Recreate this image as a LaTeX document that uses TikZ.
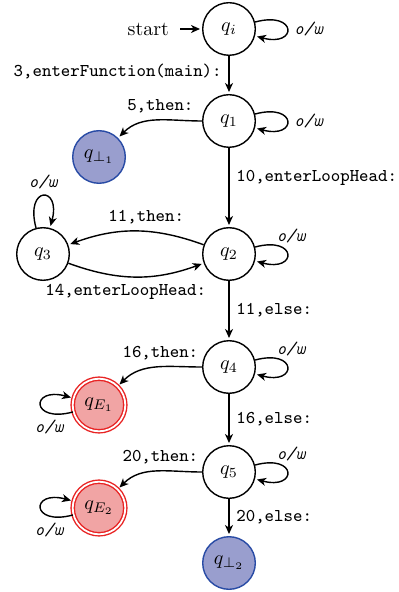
\documentclass[tikz,border=0pt]{standalone}
\usetikzlibrary{arrows.meta}
\definecolor{sinkfill}{RGB}{153,158,206}
\definecolor{sinkline}{RGB}{40,75,165}
\definecolor{errfill}{RGB}{241,164,164}
\definecolor{errline}{RGB}{232,35,35}

\begin{document}
\begin{tikzpicture}[x=0.5pt, y=-0.5pt,
  >={Stealth[length=4.5pt,width=4pt,inset=1.3pt]},
  state/.style={circle, draw, line width=0.7pt, minimum size=26.3pt, inner sep=0pt, fill=white},
  sink/.style={state, draw=sinkline, fill=sinkfill},
  errstate/.style={state, draw=errline, fill=errfill, double, double distance=0.9pt},
  trans/.style={->, line width=0.7pt, shorten >=1pt},
  lbl/.style={font=\small\ttfamily},
  ow/.style={font=\small\ttfamily\itshape},
  owup/.style={ow, anchor=south, xshift=2pt, yshift=2pt}]
\useasboundingbox (0,0) rectangle (399,592);

% states
\node[state]    (qi) at (229,29)  {$q_i$};
\node[state]    (q1) at (229,121) {$q_1$};
\node[sink]     (b1) at (99,157)  {$q_{\bot_1}$};
\node[state]    (q2) at (229,254) {$q_2$};
\node[state]    (q3) at (43,254)  {$q_3$};
\node[state]    (q4) at (229,367) {$q_4$};
\node[errstate] (e1) at (99,405)  {$q_{E_1}$};
\node[state]    (q5) at (229,472) {$q_5$};
\node[errstate] (e2) at (99,508)  {$q_{E_2}$};
\node[sink]     (b2) at (229,563) {$q_{\bot_2}$};

% initial marker
\node[anchor=east] (start) at (176,29) {start};
\draw[trans, shorten <=2pt] (start.east) -- (qi);

% transitions
\draw[trans] (qi) -- node[lbl, left, pos=0.42] {3,enterFunction(main):} (q1);
\draw[trans] (q1) to[out=180, in=45] node[lbl, above, xshift=2pt] {5,then:} (b1);
\draw[trans] (q1) -- node[lbl, right, pos=0.38] {10,enterLoopHead:} (q2);
\draw[trans] (q2) to[bend right=20] node[lbl, above, pos=0.42] {11,then:} (q3);
\draw[trans] (q3) to[bend right=20] node[lbl, below, pos=0.42] {14,enterLoopHead:} (q2);
\draw[trans] (q2) -- node[lbl, right] {11,else:} (q4);
\draw[trans] (q4) to[out=180, in=45] node[lbl, above, xshift=2pt] {16,then:} (e1);
\draw[trans] (q4) -- node[lbl, right] {16,else:} (q5);
\draw[trans] (q5) to[out=180, in=45] node[lbl, above, xshift=2pt] {20,then:} (e2);
\draw[trans] (q5) -- node[lbl, right] {20,else:} (b2);

% self loops
\draw[trans] (qi.15) .. controls +(15:22pt) and +(-15:22pt) .. (qi.-15) node[ow, right, pos=.5] {o/w};
\draw[trans] (q1.15) .. controls +(15:22pt) and +(-15:22pt) .. (q1.-15) node[ow, right, pos=.5] {o/w};
\draw[trans] (q2.15) .. controls +(15:22pt) and +(-15:22pt) .. (q2.-15) node[owup, pos=.5] {o/w};
\draw[trans] (q4.15) .. controls +(15:22pt) and +(-15:22pt) .. (q4.-15) node[owup, pos=.5] {o/w};
\draw[trans] (q5.15) .. controls +(15:22pt) and +(-15:22pt) .. (q5.-15) node[owup, pos=.5] {o/w};
\draw[trans] (q3.105) .. controls +(105:22pt) and +(75:22pt) .. (q3.75) node[ow, above, pos=.5] {o/w};
\draw[trans] (e1.195) .. controls +(195:22pt) and +(165:22pt) .. (e1.165) node[ow, below, pos=.25] {o/w};
\draw[trans] (e2.195) .. controls +(195:22pt) and +(165:22pt) .. (e2.165) node[ow, below, pos=.25] {o/w};
\end{tikzpicture}
\end{document}
